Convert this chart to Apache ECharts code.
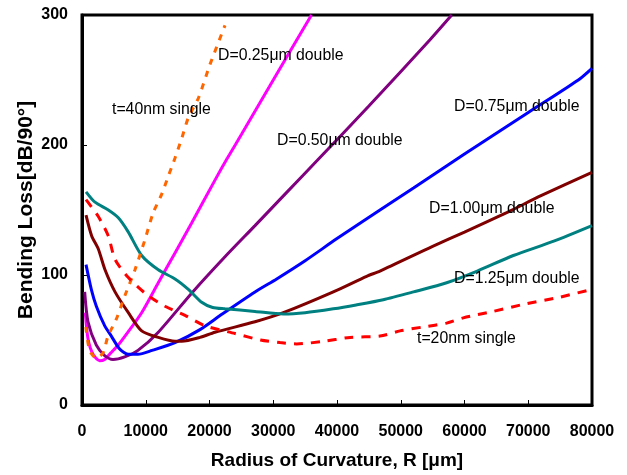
<!DOCTYPE html>
<html>
<head>
<meta charset="utf-8">
<script src="https://cdn.jsdelivr.net/npm/echarts@6/dist/echarts.min.js"></script>
<style>html,body{margin:0;padding:0;background:#fff}#c{width:627px;height:475px}</style>
</head>
<body>
<div id="c"></div>
<script>
// Radius (um) vs bending loss (dB/90deg)
var d025 = [[520,71],[940,51],[1730,39],[2770,34],[3550,35],[4500,40],[5650,46],[6745,53],[9360,71],[11970,94],[14590,117],[17200,140],[20860,173],[22700,189],[25000,208],[30000,250],[36000,300]];
var d050 = [[420,87],[940,64],[2250,46],[3550,38],[4860,35],[6700,37],[8780,42],[11970,56],[17200,86],[22430,114],[27140,138],[32000,163],[37070,189],[45000,230],[54590,281],[58000,300]];
var d075 = [[630,108],[1460,89],[2250,76],[3550,61],[4600,53],[5910,43],[7220,39],[8780,39],[11000,42],[14590,48],[18510,58],[22000,70],[27140,87],[30540,97],[35000,111],[40000,128],[46740,150],[52000,167],[60000,193],[70000,225],[77850,250],[80000,259]];
var d100 = [[630,146],[1520,130],[2560,120],[3610,104],[5180,87],[7270,71],[9360,57],[11970,52],[14590,49],[15640,49],[18510,52],[20860,56],[27140,64],[31580,71],[39420,87],[44650,99],[46740,103],[55000,122],[60000,133],[66620,148],[72000,161],[80000,179]];
var d125 = [[630,164],[2040,156],[4130,150],[5700,144],[7270,133],[9360,115],[11970,104],[14590,97],[16680,89],[18770,79],[20500,75],[22430,74],[27140,72],[31580,70],[35000,71],[39420,74],[43000,77],[47260,81],[52000,87],[57200,94],[62000,103],[67660,115],[74000,126],[80000,138]];
var t40 = [[600,60],[1200,42],[2250,36],[3290,40],[4080,53],[5380,66],[6800,85],[8310,104],[9800,126],[11180,148],[12490,162],[13540,176],[14590,190],[15640,205],[16680,221],[18250,236],[20080,262],[22430,292]];
var t20 = [[630,158],[2560,145],[4130,130],[5180,112],[7270,98],[10150,85],[13020,76],[16160,69],[19290,61],[24000,55],[28000,50],[31060,48],[33680,47],[38000,49],[42040,52],[46740,53],[49880,57],[53500,60],[57200,63],[59810,67],[64500,72],[69750,78],[75000,83],[80000,89]];

var xTicks = [0,10000,20000,30000,40000,50000,60000,70000,80000];
var yTicks = [0,100,200,300];
var labels = ['D=0.25\u03bcm double','t=40nm single','D=0.50\u03bcm double','D=0.75\u03bcm double','D=1.00\u03bcm double','D=1.25\u03bcm double','t=20nm single'];

var FONT = 'Liberation Sans, Arial, sans-serif';
function ln(data, color, type){
  return {type:'line', data:data, smooth:0.25, showSymbol:false, symbol:'none',
    lineStyle:{color:color, width:3, type:type||'solid'}, z: 3};
}
var chart = echarts.init(document.getElementById('c'), null, {renderer:'canvas'});
var labelPos = [[218,57],[112,111],[277,142],[454,108],[429,210],[454,280],[417,340]];
chart.setOption({
  animation:false,
  backgroundColor:'#fff',
  grid:{left:82,right:35,top:15,bottom:69,show:true,borderColor:'#000',borderWidth:3},
  xAxis:{type:'value',min:xTicks[0],max:xTicks[xTicks.length-1],interval:10000,
    axisLine:{show:true,lineStyle:{color:'#000',width:3}},
    axisTick:{show:true,inside:true,length:5,lineStyle:{color:'#000',width:1}},
    splitLine:{show:false},
    axisLabel:{color:'#000',fontFamily:FONT,fontWeight:'bold',fontSize:16,margin:19,
      formatter:function(v){return String(v);}},
    name:'Radius of Curvature, R [\u03bcm]',nameLocation:'middle',nameGap:46,
    nameTextStyle:{color:'#000',fontFamily:FONT,fontWeight:'bold',fontSize:19}},
  yAxis:{type:'value',min:yTicks[0],max:yTicks[yTicks.length-1],interval:100,
    axisLine:{show:true,lineStyle:{color:'#000',width:3}},
    axisTick:{show:true,inside:true,length:5,lineStyle:{color:'#000',width:1}},
    splitLine:{show:false},
    axisLabel:{color:'#000',fontFamily:FONT,fontWeight:'bold',fontSize:16,margin:14,
      formatter:function(v){return String(v);}},
    name:'Bending Loss[dB/90\u00b0]',nameLocation:'middle',nameGap:45,nameMoveOverlap:false,
    nameTextStyle:{color:'#000',fontFamily:FONT,fontWeight:'bold',fontSize:21}},
  graphic: labels.map(function(t,i){
    return {type:'text',left:labelPos[i][0],top:labelPos[i][1]-9,z:10,
      style:{text:t,fill:'#000',font:'15.8px '+FONT}};
  }),
  series:[
    ln(d025,'#ff00ff'),
    ln(d050,'#800080'),
    ln(d075,'#0000ff'),
    ln(d100,'#800000'),
    ln(d125,'#008080'),
    ln(t40,'#ff6600',[6,7]),
    ln(t20,'#ff0000',[9,8])
  ]
});
</script>
</body>
</html>
